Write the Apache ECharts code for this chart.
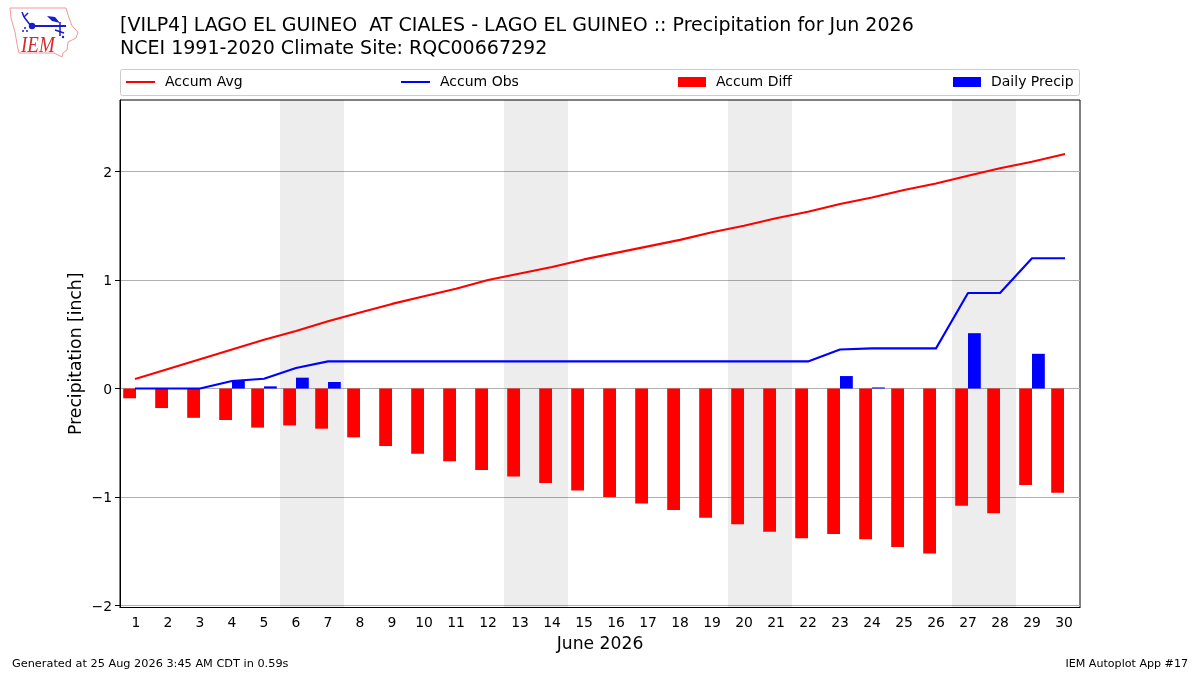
<!DOCTYPE html>
<html>
<head>
<meta charset="utf-8">
<style>html,body{margin:0;padding:0;background:#fff}#c{width:1200px;height:675px}</style>
<script src="https://cdn.jsdelivr.net/npm/echarts@6/dist/echarts.min.js"></script>
</head>
<body>
<div id="c"></div>
<script>
const days = ['1','2','3','4','5','6','7','8','9','10','11','12','13','14','15','16','17','18','19','20','21','22','23','24','25','26','27','28','29','30'];
const accumAvg = [0.09,0.18,0.27,0.36,0.45,0.53,0.62,0.70,0.78,0.85,0.92,1.00,1.06,1.12,1.19,1.25,1.31,1.37,1.44,1.50,1.57,1.63,1.70,1.76,1.83,1.89,1.96,2.03,2.09,2.16];
const accumObs = [0,0,0,0.07,0.09,0.19,0.25,0.25,0.25,0.25,0.25,0.25,0.25,0.25,0.25,0.25,0.25,0.25,0.25,0.25,0.25,0.25,0.36,0.37,0.37,0.37,0.88,0.88,1.20,1.20];
const accumDiff = [-0.09,-0.18,-0.27,-0.29,-0.36,-0.34,-0.37,-0.45,-0.53,-0.60,-0.67,-0.75,-0.81,-0.87,-0.94,-1.00,-1.06,-1.12,-1.19,-1.25,-1.32,-1.38,-1.34,-1.39,-1.46,-1.52,-1.08,-1.15,-0.89,-0.96];
const dailyPrecip = [0,0,0,0.07,0.02,0.10,0.06,0,0,0,0,0,0,0,0,0,0,0,0,0,0,0,0.115,0.01,0,0,0.51,0,0.32,0];
const weekends = [[5.5,7.5],[12.5,14.5],[19.5,21.5],[26.5,28.5]];
const yTicks = [-2,-1,0,1,2];
const titleLines = '[VILP4] LAGO EL GUINEO  AT CIALES - LAGO EL GUINEO :: Precipitation for Jun 2026\nNCEI 1991-2020 Climate Site: RQC00667292';
const FONT = 'DejaVu Sans';

const legendPos = [['Accum Avg',126,true],['Accum Obs',401,true],['Accum Diff',678,false],['Daily Precip',953,false]];
const LOGO_BLUE = '#1a1ad0';
const logoLine = (x1,y1,x2,y2,w) => ({type:'line',shape:{x1,y1,x2,y2},style:{stroke:LOGO_BLUE,lineWidth:w||1.5},silent:true});
const logoDot = (cx,cy,r) => ({type:'circle',shape:{cx,cy,r},style:{fill:LOGO_BLUE},silent:true});

const chart = echarts.init(document.getElementById('c'), null, {renderer:'canvas', width:1200, height:675});
chart.setOption({
  animation:false,
  backgroundColor:'#fff',
  textStyle:{fontFamily:FONT},
  title:[
    {text:titleLines,left:120,top:14,padding:0,textStyle:{fontFamily:FONT,fontSize:19.03,fontWeight:'normal',color:'#000',lineHeight:23.5}},
    {text:'Generated at 25 Aug 2026 3:45 AM CDT in 0.59s',left:12,top:659,padding:0,textStyle:{fontFamily:FONT,fontSize:11.3,fontWeight:'normal',color:'#000'}},
    {text:'IEM Autoplot App #17',right:12,top:659,padding:0,textStyle:{fontFamily:FONT,fontSize:11.1,fontWeight:'normal',color:'#000'}}
  ],
  legend:legendPos.map(([n,x,isLine])=>({
    data:[{name:n,icon:'rect'}],left:x,top:75,padding:0,itemWidth:isLine?29:28,itemHeight:isLine?2:10,selectedMode:false,
    textStyle:{fontFamily:FONT,fontSize:14,color:'#000',padding:[0,0,0,5]}
  })),
  grid:{left:120,top:100,width:960,height:507.5,show:true,borderColor:'#000',borderWidth:1,backgroundColor:'transparent',containLabel:false},
  xAxis:[
    {type:'category',data:days,boundaryGap:true,position:'bottom',
     name:'June 2026',nameLocation:'middle',nameGap:29,nameTextStyle:{fontFamily:FONT,fontSize:17.2,color:'#000'},
     axisLine:{onZero:false,lineStyle:{color:'#000',width:1}},
     axisTick:{alignWithLabel:true,length:5,lineStyle:{color:'#000'}},
     axisLabel:{interval:0,fontFamily:FONT,fontSize:13.9,color:'#000',margin:9},
     splitLine:{show:false}},
    {type:'value',min:0.5,max:30.5,interval:1,position:'top',show:false}
  ],
  yAxis:{type:'value',min:-2.018,max:2.659,
    name:'Precipitation [inch]',nameLocation:'middle',nameGap:35,nameMoveOverlap:false,nameTextStyle:{fontFamily:FONT,fontSize:17.2,color:'#000'},
    axisLine:{show:true,lineStyle:{color:'#000',width:1}},
    axisTick:{show:true,length:5,lineStyle:{color:'#000'},customValues:yTicks},
    axisLabel:{fontFamily:FONT,fontSize:13.9,color:'#000',margin:8,customValues:yTicks,
      formatter:v=>'{a|'+String(v).replace('-','\u2212')+'}',
      rich:{a:{fontFamily:FONT,fontSize:13.9,color:'#000',padding:[3,0,0,0]}}},
    splitLine:{show:true,lineStyle:{color:'#b0b0b0',width:1}}
  },
  series:[
    {name:'Weekend',type:'line',xAxisIndex:1,yAxisIndex:0,data:[[1,null]],symbol:'none',silent:true,
     markArea:{silent:true,itemStyle:{color:'rgba(0,0,0,0.07)',borderWidth:0},
       data:weekends.map(w=>[{xAxis:w[0]},{xAxis:w[1]}])}},
    {name:'Accum Diff',type:'bar',data:accumDiff,barWidth:12.8,barGap:0,itemStyle:{color:'#ff0000'}},
    {name:'Daily Precip',type:'bar',data:dailyPrecip,barWidth:12.8,barGap:0,itemStyle:{color:'#0000ff'}},
    {name:'Accum Avg',type:'line',data:accumAvg,symbol:'none',lineStyle:{color:'#ff0000',width:2.1,cap:'square',join:'round'},itemStyle:{color:'#ff0000'},z:5},
    {name:'Accum Obs',type:'line',data:accumObs,symbol:'none',lineStyle:{color:'#0000ff',width:2.1,cap:'square',join:'round'},itemStyle:{color:'#0000ff'},z:5}
  ],
  graphic:[
    {type:'rect',shape:{x:120.5,y:69.5,width:959,height:26,r:2},style:{fill:'transparent',stroke:'#cccccc',lineWidth:1},z:-1,silent:true},
    {type:'polyline',shape:{points:[[10,8],[66,8],[68,15],[72,26],[78,32],[76,38],[68,42],[67,50],[63,53],[62,57],[58,55],[54,53],[19,53],[17,44],[15,32],[11,18],[10,8]]},style:{fill:'none',stroke:'#ee9999',lineWidth:1},silent:true},
    {type:'text',x:21,y:34,scaleX:0.95,scaleY:1.15,style:{text:'IEM',font:'italic 20px "Liberation Serif"',fill:'#d42c2c'},silent:true},
    logoLine(31,26,66,26,1.8),
    logoLine(31,26,24,17),
    logoLine(24,17,22,12),
    logoLine(24,17,28,13),
    logoDot(32,26,3.2),
    logoDot(25,28,1), logoDot(23,31,1), logoDot(27,31,1),
    {type:'polygon',shape:{points:[[47,16],[55,17],[60,23],[52,21]]},style:{fill:LOGO_BLUE},silent:true},
    logoLine(60,22,60,36),
    logoLine(55,30,64,33),
    logoDot(63,37,1.2)
  ]
});
</script>
</body>
</html>
